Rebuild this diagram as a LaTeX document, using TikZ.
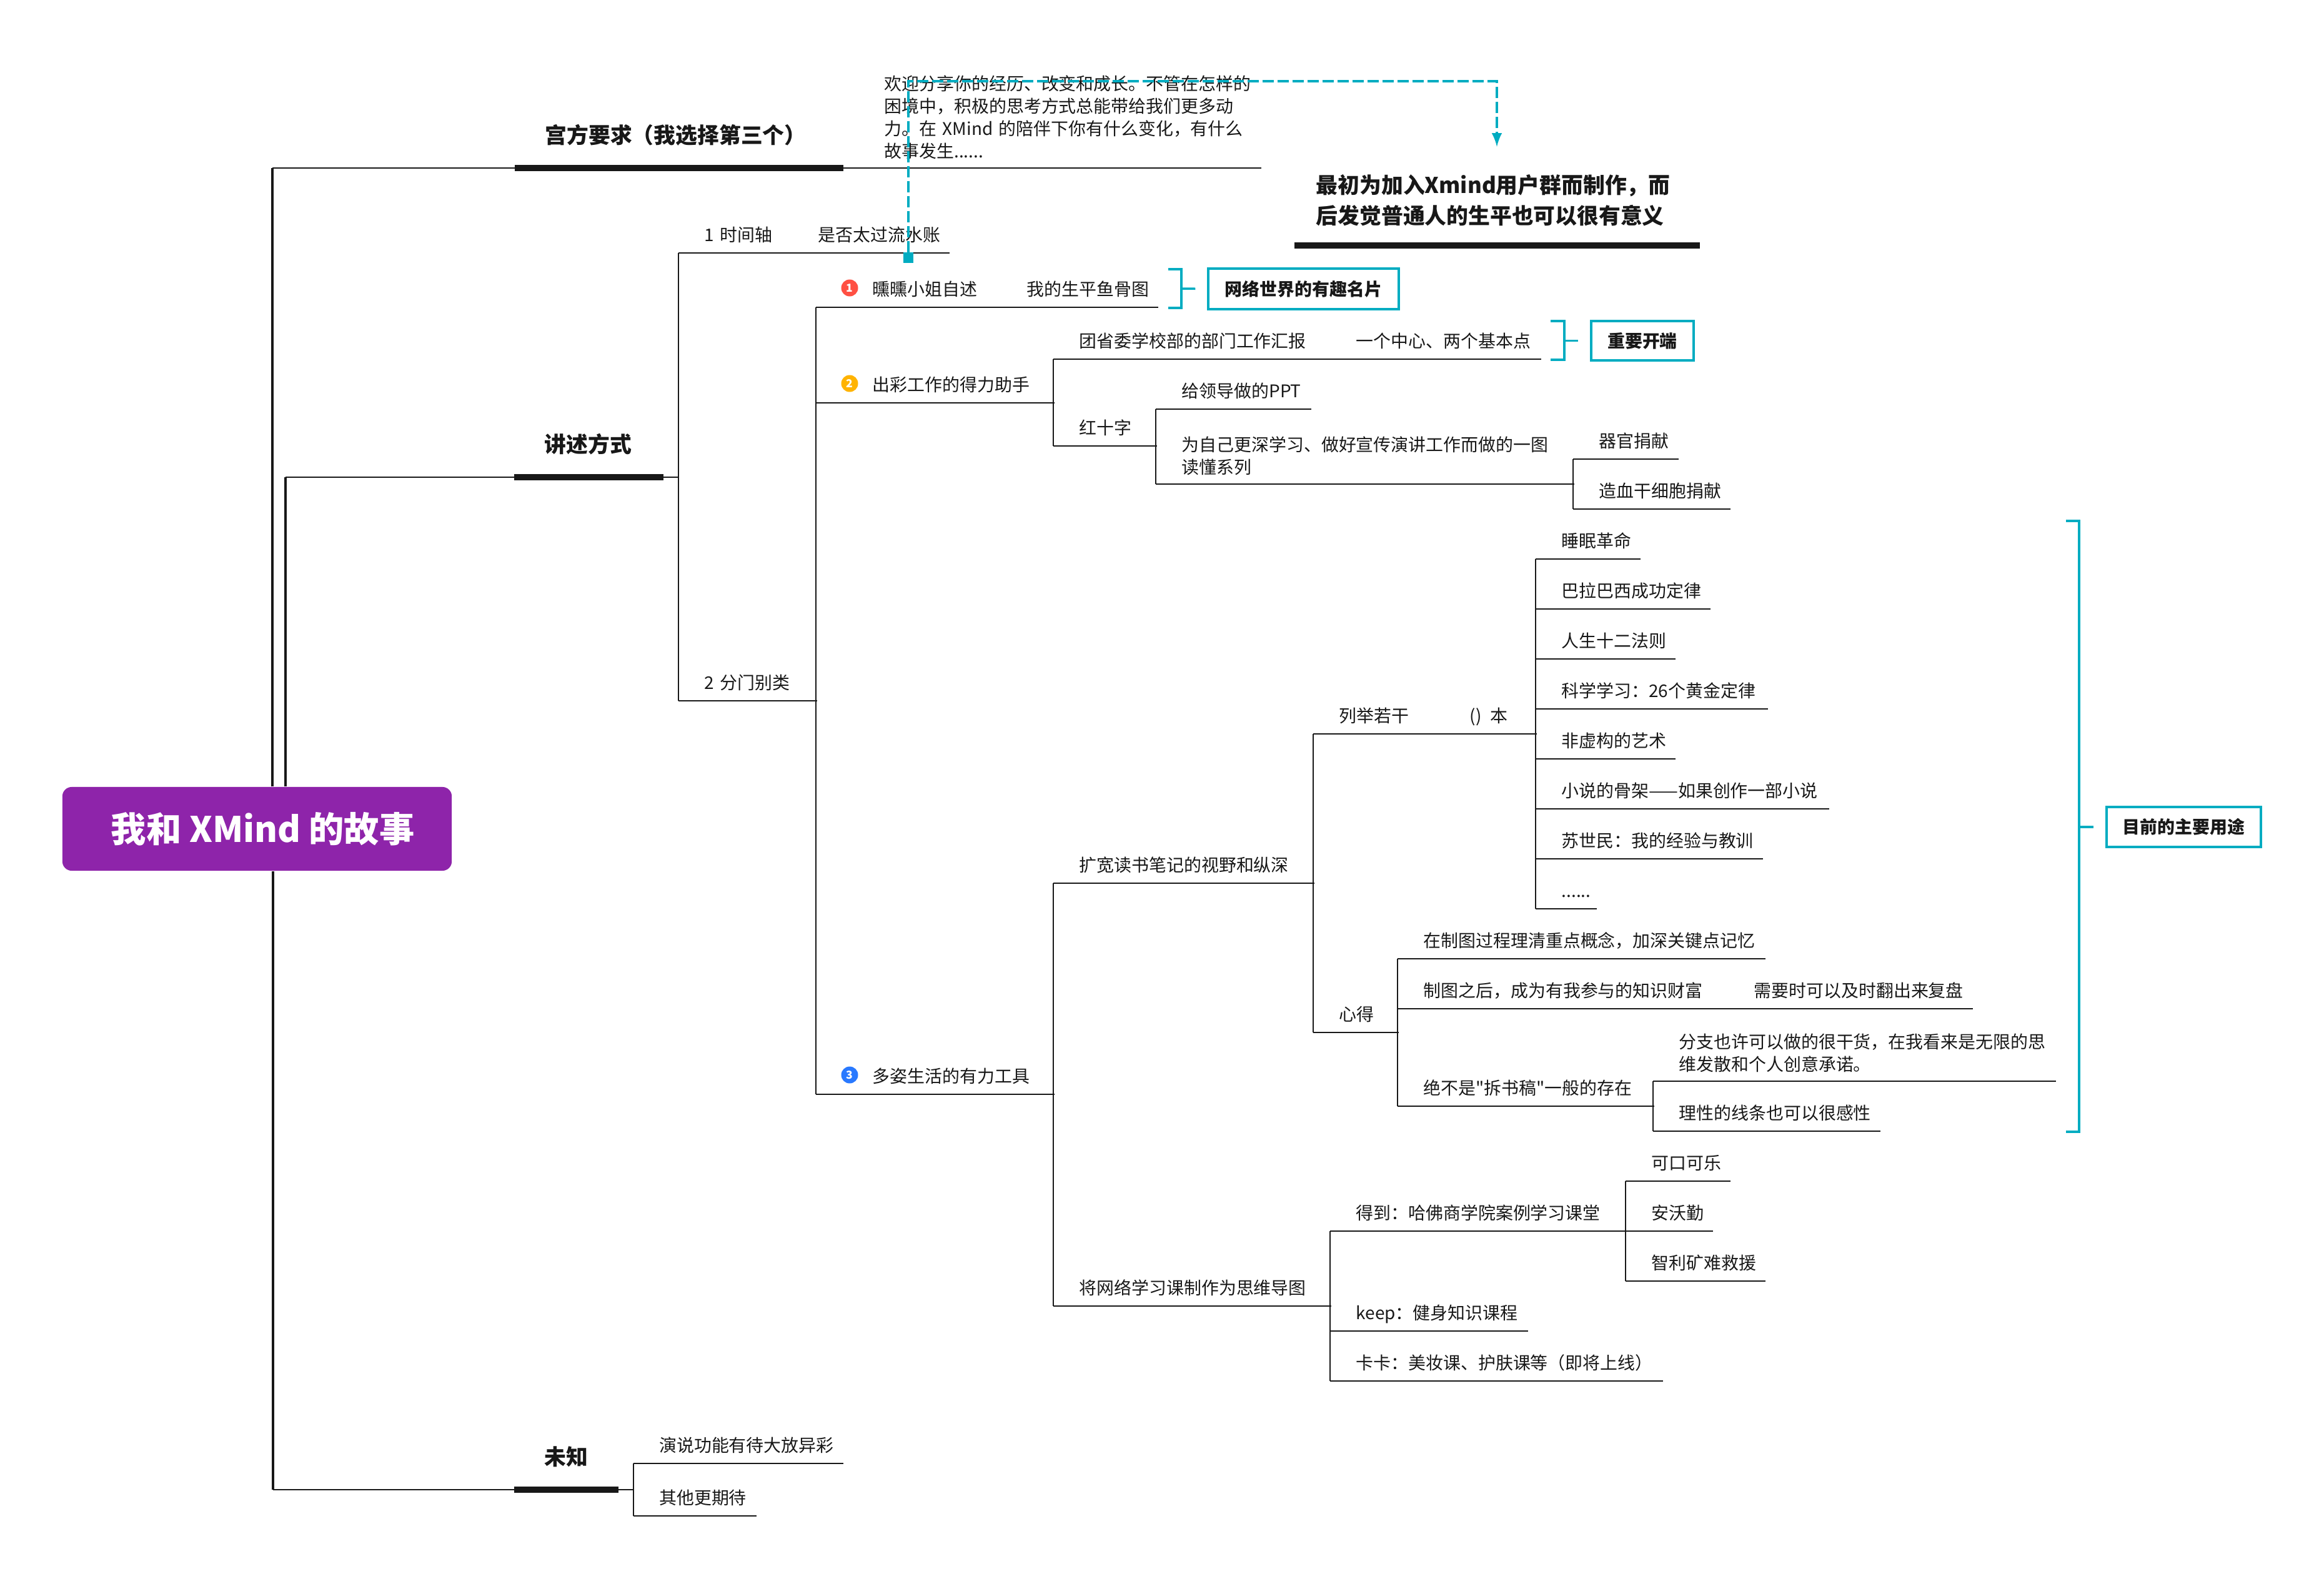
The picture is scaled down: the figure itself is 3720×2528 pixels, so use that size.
\documentclass[tikz,border=0pt]{standalone}
\usepackage{fontspec}
\setmainfont[Ligatures=TeXOff]{Noto Sans CJK SC}
\usetikzlibrary{positioning, calc, arrows}
\definecolor{XM-purple}{RGB}{142,36,170}
\definecolor{XM-teal}{RGB}{0,172,193}
\definecolor{XM-ink}{RGB}{24,24,24}
\definecolor{XM-red}{RGB}{255,80,67}
\definecolor{XM-amber}{RGB}{255,179,0}
\definecolor{XM-blue}{RGB}{41,121,255}
\begin{document}
\begin{tikzpicture}[x=0.01cm, y=-0.01cm]
  \tikzset{ ln/.style  ={draw=XM-ink, line width=0.02cm} }
  \tikzset{ barl/.style={draw=XM-ink, line width=0.10cm} }
  \tikzset{ brv/.style ={draw=XM-ink, line width=0.04cm, line cap=butt} }
  \tikzset{ brh/.style ={draw=XM-ink, line width=0.028cm} }
  \tikzset{ tpb/.style ={anchor=south west, inner sep=0pt, minimum height=0.50cm, text width=#1cm, align=left, text=XM-ink, font=\fontsize{7.94}{10.3}\selectfont} }
  \tikzset{ tpc/.style ={tpb=#1, execute at begin node=\hspace*{0.41cm}\strut, append after command={(\tikzlastnode.south west) edge[ln] (\tikzlastnode.south east)}} }
  \tikzset{ tpm/.style ={tpb=#1, minimum height=0.98cm, font=\bfseries\fontsize{9.9}{13.9}\selectfont, execute at begin node=\hspace*{0.48cm}\strut, append after command={(\tikzlastnode.south west) edge[barl] (\tikzlastnode.south east)}} }
  \tikzset{ rootbx/.style={fill=XM-purple, rounded corners=0.15cm, minimum width=6.23cm, minimum height=1.34cm, inner sep=0pt, text=white, font=\bfseries\fontsize{16}{18}\selectfont} }
  \tikzset{ mrk/.style ={circle, minimum size=0.27cm, inner sep=0pt, text=white, font=\bfseries\fontsize{5}{6}\selectfont} }
  \tikzset{ cbx/.style ={draw=XM-teal, line width=0.04cm, inner sep=0pt, text=XM-ink, font=\bfseries\fontsize{7.94}{10}\selectfont} }
  \tikzset{ brk/.style ={draw=XM-teal, line width=0.035cm} }
  \tikzset{ lnk/.style ={draw=XM-teal, line width=0.04cm, dash pattern=on 0.18cm off 0.06cm} }
  \useasboundingbox (0,0) rectangle (3720,2528);

  \node[rootbx] (r) at (411.5,1327) {\hspace*{0.18cm}我和 XMind 的故事};

  \node[tpm=5.24] (m1) at (824,269)   {宫方要求（我选择第三个）};
  \node[tpm=2.37] (m2) at (823,764)   {讲述方式};
  \node[tpm=1.65] (m3) at (823,2385)  {未知};
  \node[tpb=6.69, inner ysep=0.13cm, append after command={(\tikzlastnode.south west) edge[ln] (\tikzlastnode.south east)}] (n1) at (1348,269)
    {\hspace*{0.67cm}欢迎分享你的经历、改变和成长。不管在怎样的\\\hspace*{0.67cm}困境中，积极的思考方式总能带给我们更多动\\\hspace*{0.67cm}力。在 XMind 的陪伴下你有什么变化，有什么\\\hspace*{0.67cm}故事发生......};
  \node[tpb=6.47, inner ysep=0.30cm, font=\bfseries\fontsize{9.9}{13.9}\selectfont, append after command={(\tikzlastnode.south west) edge[barl] (\tikzlastnode.south east)}] (m4) at (2072,393)
    {\hspace*{0.34cm}最初为加入Xmind用户群而制作，而\\\hspace*{0.34cm}后发觉普通人的生平也可以很有意义};

  \node[tpc=1.82] (t1)  at (1086,405)  {1 时间轴};
  \node[tpc=2.50] (t1a) at (1268,405)  {是否太过流水账};
  \node[tpc=2.20] (t2)  at (1086,1122) {2 分门别类};

  \node[tpc=2.96] (a1)  at (1306,492)  {\hspace*{0.49cm}曛曛小姐自述};
  \node[tpc=2.50] (a1a) at (1602,492)  {我的生平鱼骨图};
  \node[tpc=3.80] (a2)  at (1306,645)  {\hspace*{0.49cm}出彩工作的得力助手};
  \node[tpc=3.80] (a3)  at (1306,1752) {\hspace*{0.49cm}多姿生活的有力工具};
  \node[mrk, fill=XM-red]   (i1) at (1360,461)  {1};
  \node[mrk, fill=XM-amber] (i2) at (1360,614)  {2};
  \node[mrk, fill=XM-blue]  (i3) at (1360,1721) {3};

  \node[tpc=4.43] (b1)  at (1686,575)  {团省委学校部的部门工作汇报};
  \node[tpc=3.36] (b1a) at (2129,575)  {一个中心、两个基本点};
  \node[tpc=1.64] (b2)  at (1686,714)  {红十字};
  \node[tpc=4.16] (b3)  at (1686,1414) {扩宽读书笔记的视野和纵深};
  \node[tpc=4.43] (b4)  at (1686,2091) {将网络学习课制作为思维导图};

  \node[tpc=2.47] (c1)  at (1850,655)  {给领导做的PPT};
  \node[tpc=6.68, inner ysep=0.13cm] (c2) at (1850,775) {为自己更深学习、做好宣传演讲工作而做的一图\\\hspace*{0.41cm}读懂系列};
  \node[tpc=1.67] (d1)  at (2518,735)  {器官捐献};
  \node[tpc=2.50] (d2)  at (2518,815)  {造血干细胞捐献};

  \node[tpc=2.09] (e1)  at (2102,1175) {列举若干};
  \node[tpc=1.47] (e1a) at (2311,1175) {() \,本};
  \node[tpc=1.35] (e2)  at (2102,1653) {心得};

  \node[tpc=1.66] (f1)  at (2458,895)  {睡眠革命};
  \node[tpc=2.78] (f2)  at (2458,975)  {巴拉巴西成功定律};
  \node[tpc=2.22] (f3)  at (2458,1055) {人生十二法则};
  \node[tpc=3.70] (f4)  at (2458,1135) {科学学习：26个黄金定律};
  \node[tpc=2.22] (f5)  at (2458,1215) {非虚构的艺术};
  \node[tpc=4.68] (f6)  at (2458,1295) {小说的骨架——如果创作一部小说};
  \node[tpc=3.62] (f7)  at (2458,1375) {苏世民：我的经验与教训};
  \node[tpc=0.97] (f8)  at (2458,1455) {......};

  \node[tpc=5.87] (g1)  at (2237,1535) {在制图过程理清重点概念，加深关键点记忆};
  \node[tpc=5.29] (g2)  at (2237,1615) {制图之后，成为有我参与的知识财富};
  \node[tpc=3.90] (g2a) at (2766,1615) {需要时可以及时翻出来复盘};
  \node[tpc=4.09] (g3)  at (2237,1771) {绝不是"拆书稿"一般的存在};
  \node[tpc=6.43, inner ysep=0.13cm] (h1) at (2646,1731) {分支也许可以做的很干货，在我看来是无限的思\\\hspace*{0.41cm}维发散和个人创意承诺。};
  \node[tpc=3.62] (h2)  at (2646,1811) {理性的线条也可以很感性};

  \node[tpc=4.73] (k1)  at (2129,1971) {得到：哈佛商学院案例学习课堂};
  \node[tpc=3.15] (k2)  at (2129,2131) {keep：健身知识课程};
  \node[tpc=5.31] (k3)  at (2129,2211) {卡卡：美妆课、护肤课等（即将上线）};
  \node[tpc=1.66] (l1)  at (2602,1891) {可口可乐};
  \node[tpc=1.38] (l2)  at (2602,1971) {安沃勤};
  \node[tpc=2.22] (l3)  at (2602,2051) {智利矿难救援};

  \node[tpc=3.35] (p1)  at (1013.5,2343) {演说功能有待大放异彩};
  \node[tpc=1.96] (p2)  at (1013.5,2427) {其他更期待};

  \node[cbx, minimum width=3.04cm, minimum height=0.64cm] (s1) at (2086.5,462.5) {网络世界的有趣名片};
  \node[cbx, minimum width=1.63cm, minimum height=0.62cm] (s2) at (2629,545.5)   {重要开端};
  \node[cbx, minimum width=2.46cm, minimum height=0.63cm] (s3) at (3495.5,1324)  {目前的主要用途};

  % branches out of the root
  \coordinate (c1b) at (436,269);
  \coordinate (c2b) at (457,764);
  \coordinate (c3b) at (437,2385);
  \draw[brv] (c1b |- r.north) -- (c1b);
  \draw[brv] (c2b |- r.north) -- (c2b);
  \draw[brv] (c3b |- r.south) -- (c3b);
  \draw[brh] (c1b) -- (m1.south west);
  \draw[brh] (c2b) -- (m2.south west);
  \draw[brh] (c3b) -- (m3.south west);

  % spines
  \draw[ln] (m2.south east) -- (m2.south east -| t1.south west);
  \draw[ln] (m3.south east) -- (m3.south east -| p1.south west);
  \draw[ln] (t1.south west) -- (t2.south west);
  \draw[ln] (a1.south west) -- (a3.south west);
  \draw[ln] (b1.south west) -- (b2.south west);
  \draw[ln] (b3.south west) -- (b4.south west);
  \draw[ln] (c1.south west) -- (c2.south west);
  \draw[ln] (d1.south west) -- (d2.south west);
  \draw[ln] (e1.south west) -- (e2.south west);
  \draw[ln] (f1.south west) -- (f8.south west);
  \draw[ln] (g1.south west) -- (g3.south west);
  \draw[ln] (h1.south west) -- (h2.south west);
  \draw[ln] (k1.south west) -- (k3.south west);
  \draw[ln] (l1.south west) -- (l3.south west);
  \draw[ln] (p1.south west) -- (p2.south west);

  % brackets
  \coordinate (q1t) at (1870,431);
  \coordinate (q1b) at (1870,493);
  \coordinate (q1s) at (1891,462);
  \coordinate (q2t) at (2482,514);
  \coordinate (q2b) at (2482,576);
  \coordinate (q2s) at (2504,545.5);
  \coordinate (q3t) at (3307,834);
  \coordinate (q3b) at (3307,1812);
  \coordinate (q3s) at (3328,1324);
  \draw[brk] (q1t) -- (q1t -| q1s) -- (q1b -| q1s) -- (q1b);
  \draw[brk] (q2t) -- (q2t -| q2s) -- (q2b -| q2s) -- (q2b);
  \draw[brk] (q3t) -- (q3t -| q3s) -- (q3b -| q3s) -- (q3b);
  \draw[brk, shorten >=0.19cm] (q1s) -- (s1.west);
  \draw[brk, shorten >=0.19cm] (q2s) -- (s2.west);
  \draw[brk, shorten >=0.19cm] (q3s) -- (s3.west);

  % relationship
  \node[fill=XM-teal, minimum width=0.16cm, minimum height=0.17cm, inner sep=0pt] (u1) at (1454,413) {};
  \coordinate (u2) at (1454,130);
  \coordinate (u3) at (2396,130);
  \coordinate (u4) at (2396,235);
  \draw[lnk, ->, >=latex] (u1) -- (u2) -- (u3) -- (u4);
\end{tikzpicture}
\end{document}
